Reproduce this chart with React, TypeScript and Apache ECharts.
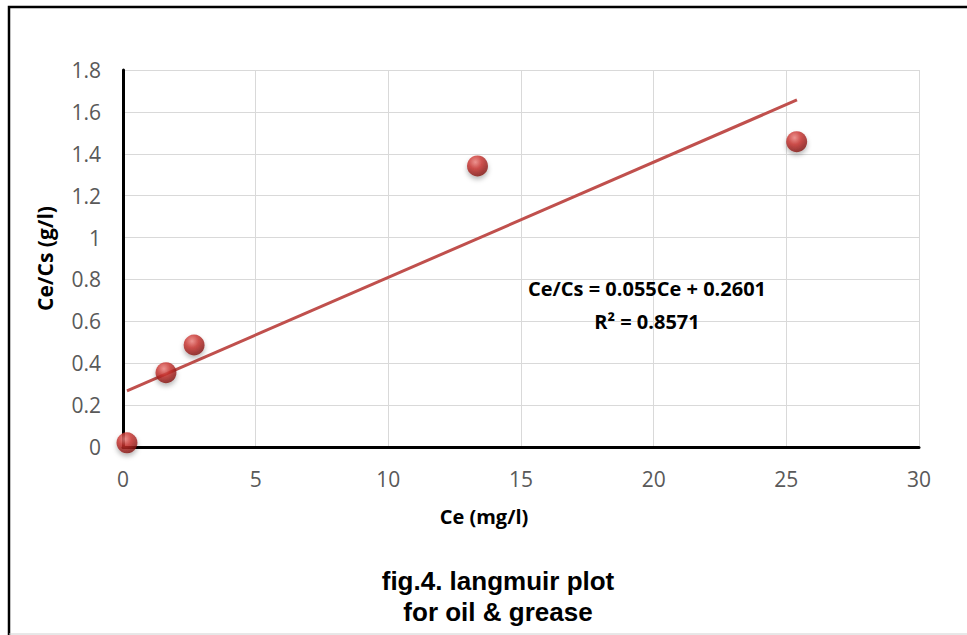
import React, { useEffect, useRef } from "react";
import * as echarts from "echarts";

const ceValues = [0.15, 1.62, 2.68, 13.36, 25.39];
const ratioValues = [0.02, 0.355, 0.487, 1.342, 1.458];
const trendX = [0.15, 25.4];
const trendY = [0.268, 1.657];
const equationText = "Ce/Cs = 0.055Ce + 0.2601";
const r2Text = "R² = 0.8571";
const xTitle = "Ce (mg/l)";
const yTitle = "Ce/Cs (g/l)";
const captionLines = ["fig.4. langmuir plot", "for oil & grease"];

export default function App() {
  const ref = useRef<HTMLDivElement>(null);
  useEffect(() => {
    document.body.style.margin = "0";
    const chart = echarts.init(ref.current!, null, { renderer: "svg" });
    const scatterData = ceValues.map((x, i) => [x, ratioValues[i]]);
    const trendData = trendX.map((x, i) => [x, trendY[i]]);
    chart.setOption({
      animation: false,
      backgroundColor: "#ffffff",
      grid: { left: 123, right: 48, top: 70, bottom: 188 },
      xAxis: {
        type: "value",
        min: 0,
        max: 30,
        interval: 5,
        axisLine: { show: true, onZero: false, lineStyle: { color: "#000", width: 3 } },
        axisTick: { show: false },
        axisLabel: { color: "#595959", fontSize: 21, margin: 21, fontFamily: "Open Sans" },
        splitLine: { show: true, lineStyle: { color: "#d9d9d9", width: 1 } },
      },
      yAxis: {
        type: "value",
        min: 0,
        max: 1.8,
        interval: 0.2,
        name: yTitle,
        nameLocation: "middle",
        nameGap: 68,
        nameTextStyle: { color: "#000", fontSize: 21, fontWeight: "bold", fontFamily: "Open Sans" },
        axisLine: { show: true, lineStyle: { color: "#000", width: 3 } },
        axisTick: { show: false },
        axisLabel: {
          color: "#595959",
          fontSize: 21,
          margin: 22,
          fontFamily: "Open Sans",
          formatter: (v: number) => String(Math.round(v * 10) / 10),
        },
        splitLine: { show: true, lineStyle: { color: "#d9d9d9", width: 1 } },
      },
      series: [
        {
          type: "line",
          data: trendData,
          showSymbol: false,
          symbol: "none",
          lineStyle: { color: "#c0504d", width: 3 },
          z: 2,
        },
        {
          type: "scatter",
          data: scatterData,
          symbolSize: 21,
          itemStyle: {
            color: {
              type: "radial",
              x: 0.4,
              y: 0.32,
              r: 0.7,
              colorStops: [
                { offset: 0, color: "#f08480" },
                { offset: 0.45, color: "#c8302c" },
                { offset: 1, color: "#7e1210" },
              ],
            },
            shadowBlur: 5,
            shadowColor: "rgba(0,0,0,0.35)",
            shadowOffsetY: 3,
          },
          z: 3,
        },
      ],
      graphic: [
        {
          type: "rect",
          shape: { x: 9, y: 7, width: 1100, height: 800 },
          style: { fill: "none", stroke: "#000", lineWidth: 2.5 },
          z: 10,
        },
        {
          type: "line",
          shape: { x1: 9, y1: 634, x2: 967, y2: 634 },
          style: { stroke: "#d0d0d0", lineWidth: 1 },
          z: 10,
        },
        {
          type: "text",
          x: 647,
          y: 288,
          style: {
            text: equationText,
            fill: "#000",
            font: "bold 20px 'Open Sans'",
            textAlign: "center",
            textVerticalAlign: "middle",
          },
          z: 10,
        },
        {
          type: "text",
          x: 647,
          y: 321,
          style: {
            text: r2Text,
            fill: "#000",
            font: "bold 20px 'Open Sans'",
            textAlign: "center",
            textVerticalAlign: "middle",
          },
          z: 10,
        },
        {
          type: "text",
          x: 484,
          y: 516,
          style: {
            text: xTitle,
            fill: "#000",
            font: "bold 20px 'Open Sans'",
            textAlign: "center",
            textVerticalAlign: "middle",
          },
          z: 10,
        },
        {
          type: "text",
          x: 498,
          y: 581,
          style: {
            text: captionLines[0],
            fill: "#000",
            font: "bold 26px 'Liberation Sans'",
            textAlign: "center",
            textVerticalAlign: "middle",
          },
          z: 10,
        },
        {
          type: "text",
          x: 498,
          y: 612,
          style: {
            text: captionLines[1],
            fill: "#000",
            font: "bold 26px 'Liberation Sans'",
            textAlign: "center",
            textVerticalAlign: "middle",
          },
          z: 10,
        },
      ],
    });
    return () => chart.dispose();
  }, []);
  return <div ref={ref} style={{ width: 967, height: 635 }} />;
}
